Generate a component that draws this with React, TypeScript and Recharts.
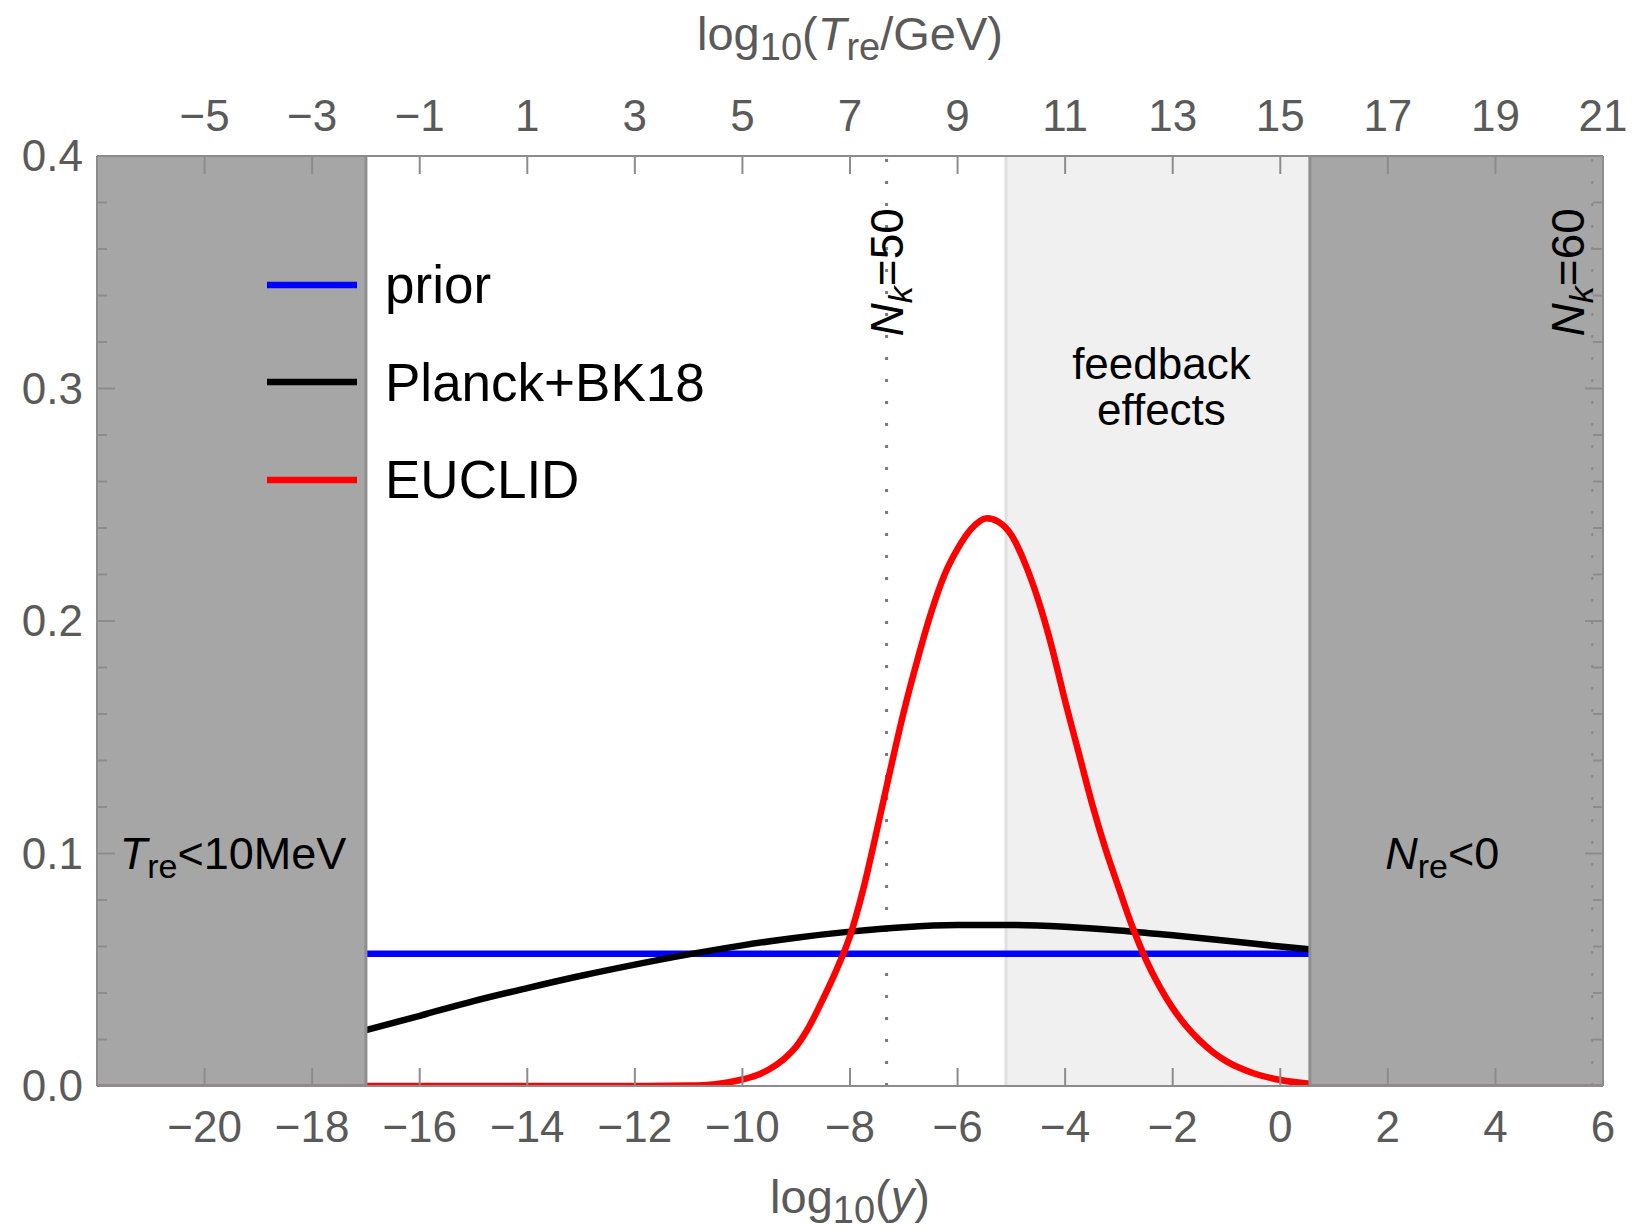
import {
  Legend,
  Line,
  LineChart,
  ReferenceArea,
  ReferenceDot,
  ReferenceLine,
  XAxis,
  YAxis,
} from "recharts";

const FONT = "'Liberation Sans', Arial, Helvetica, sans-serif";
const LABEL_GRAY = "#5a5a5a";
const FRAME_GRAY = "#8c8c8c";
const DARK_SHADE = "#a6a6a6";
const LIGHT_SHADE = "#f0f0f0";

// axis ticks
const xTicksBottom = [-20, -18, -16, -14, -12, -10, -8, -6, -4, -2, 0, 2, 4, 6];
const xTicksTop = [-5, -3, -1, 1, 3, 5, 7, 9, 11, 13, 15, 17, 19, 21];
const yTicks = [
  0, 0.02, 0.04, 0.06, 0.08, 0.1, 0.12, 0.14, 0.16, 0.18, 0.2, 0.22, 0.24, 0.26,
  0.28, 0.3, 0.32, 0.34, 0.36, 0.38, 0.4,
];

const seriesNames = ["prior", "Planck+BK18", "EUCLID"];
const seriesColors = ["#0000ff", "#000000", "#ff0000"];

// posteriors in log10(y)
const priorX = [-17, 0.55];
const priorY = [0.0569, 0.0569];

const planckX = [-17, -16, -15, -14, -13, -12, -11, -10, -9, -8, -7, -6, -5, -4, -3, -2, -1, 0, 0.55];
const planckY = [
  0.024, 0.0302, 0.0365, 0.0421, 0.0474, 0.0522, 0.0566, 0.0605, 0.0638, 0.0664,
  0.0683, 0.0692, 0.0693, 0.0685, 0.0669, 0.0648, 0.0625, 0.06, 0.0588,
];

const euclidX = [
  -17, -12, -11, -10.5, -10, -9.75, -9.5, -9.25, -9, -8.75, -8.5, -8.25, -8, -7.75,
  -7.5, -7.25, -7, -6.75, -6.5, -6.25, -6, -5.75, -5.45, -5.25, -5, -4.75, -4.5, -4.25,
  -4, -3.75, -3.5, -3.25, -3, -2.75, -2.5, -2.25, -2, -1.75, -1.5, -1.25, -1, -0.75,
  -0.5, 0, 0.55,
];
const euclidY = [
  0, 0, 0.0002, 0.0008, 0.0028, 0.0045, 0.0072, 0.0112, 0.017, 0.026, 0.0375, 0.05,
  0.0645, 0.085, 0.11, 0.136, 0.161, 0.183, 0.203, 0.2195, 0.231, 0.2395, 0.2442,
  0.2428, 0.237, 0.225, 0.209, 0.189, 0.1655, 0.1435, 0.1215, 0.102, 0.085, 0.0685,
  0.0545, 0.043, 0.0335, 0.0258, 0.0196, 0.0145, 0.0106, 0.0077, 0.0055, 0.0026, 0.001,
];

// excluded / marked regions
const xMin = -22;
const xMax = 6;
const topMin = -7;
const topMax = 21;
const lowTempCut = -17; // T_re < 10 MeV
const nreZero = 0.55; // N_re < 0
const feedbackStart = -5.1;
const nk50 = -7.32;
const nk60 = 5.8;

const zip = (xs: number[], ys: number[]) => xs.map((x, i) => ({ x, y: ys[i] }));
const priorData = zip(priorX, priorY);
const planckData = zip(planckX, planckY);
const euclidData = zip(euclidX, euclidY);
const hiddenLeft = zip([xMin, lowTempCut], [0, 0]);
const hiddenRight = zip([nreZero, xMax], [0, 0]);
const topAnchor = zip([topMin, topMax], [0, 0]);

const fmt = (v: number) => (v < 0 ? `\u2212${Math.abs(v)}` : `${v}`);
const isMajorY = (v: number) => Math.abs(v * 10 - Math.round(v * 10)) < 1e-6;

const BOTTOM_GAP = 41;
const TOP_GAP = 40;
const LEFT_GAP = 14;
const RIGHT_GAP = 4;
const MAJOR = 18;
const MINOR = 10;
const LINE_W = 6.5;

function BottomTick({ x, y, payload }: any) {
  const base = y - BOTTOM_GAP;
  return (
    <g>
      <line x1={x} x2={x} y1={base} y2={base - MAJOR} stroke={FRAME_GRAY} strokeWidth={2} />
      <text x={x} y={y} dy="0.35em" textAnchor="middle" fontSize={44} fontFamily={FONT} fill={LABEL_GRAY}>
        {fmt(payload.value)}
      </text>
    </g>
  );
}

function TopTick({ x, y, payload }: any) {
  const base = y + TOP_GAP;
  return (
    <g>
      <line x1={x} x2={x} y1={base} y2={base + MAJOR} stroke={FRAME_GRAY} strokeWidth={2} />
      <text x={x} y={y} dy="0.35em" textAnchor="middle" fontSize={44} fontFamily={FONT} fill={LABEL_GRAY}>
        {fmt(payload.value)}
      </text>
    </g>
  );
}

function LeftTick({ x, y, payload }: any) {
  const base = x + LEFT_GAP;
  const major = isMajorY(payload.value);
  return (
    <g>
      <line x1={base} x2={base + (major ? MAJOR : MINOR)} y1={y} y2={y} stroke={FRAME_GRAY} strokeWidth={2} />
      {major && (
        <text x={x} y={y} dy="0.35em" textAnchor="end" fontSize={44} fontFamily={FONT} fill={LABEL_GRAY}>
          {payload.value.toFixed(1)}
        </text>
      )}
    </g>
  );
}

function RightTick({ x, y, payload }: any) {
  const base = x - RIGHT_GAP;
  const major = isMajorY(payload.value);
  return (
    <line x1={base} x2={base - (major ? MAJOR : MINOR)} y1={y} y2={y} stroke={FRAME_GRAY} strokeWidth={2} />
  );
}

function TopTitle({ viewBox }: any) {
  const cx = viewBox.x + viewBox.width / 2;
  return (
    <text x={cx} y={viewBox.y + 50} textAnchor="middle" fontSize={47} fontFamily={FONT} fill={LABEL_GRAY}>
      log
      <tspan fontSize={38} dy={10}>10</tspan>
      <tspan dy={-10}>(</tspan>
      <tspan fontStyle="italic">T</tspan>
      <tspan fontSize={38} dy={10}>re</tspan>
      <tspan dy={-10}>/GeV)</tspan>
    </text>
  );
}

function BottomTitle({ viewBox }: any) {
  const cx = viewBox.x + viewBox.width / 2;
  return (
    <text x={cx} y={viewBox.y + 127} textAnchor="middle" fontSize={47} fontFamily={FONT} fill={LABEL_GRAY}>
      log
      <tspan fontSize={38} dy={10}>10</tspan>
      <tspan dy={-10}>(</tspan>
      <tspan fontStyle="italic">y</tspan>
      <tspan>)</tspan>
    </text>
  );
}

function LowTempNote({ cx, cy }: any) {
  return (
    <text x={cx} y={cy} dy="0.35em" textAnchor="middle" fontSize={45} fontFamily={FONT} fill="#000">
      <tspan fontStyle="italic">T</tspan>
      <tspan fontSize={34} dy={9}>re</tspan>
      <tspan dy={-9}>{"<10MeV"}</tspan>
    </text>
  );
}

function NreNote({ cx, cy }: any) {
  return (
    <text x={cx} y={cy} dy="0.35em" textAnchor="middle" fontSize={45} fontFamily={FONT} fill="#000">
      <tspan fontStyle="italic">N</tspan>
      <tspan fontSize={34} dy={9}>re</tspan>
      <tspan dy={-9}>{"<0"}</tspan>
    </text>
  );
}

function FeedbackNote({ cx, cy }: any) {
  return (
    <text x={cx} y={cy} textAnchor="middle" fontSize={44} fontFamily={FONT} fill="#000">
      <tspan x={cx}>feedback</tspan>
      <tspan x={cx} dy={46}>effects</tspan>
    </text>
  );
}

function NkNote({ cx, cy, value }: any) {
  return (
    <text
      x={cx}
      y={cy}
      dy="0.35em"
      textAnchor="middle"
      fontSize={46}
      fontFamily={FONT}
      fill="#000"
      transform={`rotate(-90 ${cx} ${cy})`}
    >
      <tspan fontStyle="italic">N</tspan>
      <tspan fontStyle="italic" fontSize={34} dy={9}>k</tspan>
      <tspan dy={-9}>{`=${value}`}</tspan>
    </text>
  );
}

function LegendBox() {
  return (
    <div style={{ fontFamily: FONT }}>
      {seriesNames.map((name, i) => (
        <div key={name} style={{ display: "flex", alignItems: "center", height: 97.5 }}>
          <svg width={90} height={10} style={{ display: "block" }}>
            <line x1={0} x2={90} y1={5} y2={5} stroke={seriesColors[i]} strokeWidth={6.5} />
          </svg>
          <span style={{ marginLeft: 28, fontSize: 53, lineHeight: "97.5px", color: "#000", whiteSpace: "nowrap" }}>
            {name}
          </span>
        </div>
      ))}
    </div>
  );
}

export default function App() {
  const common = { xAxisId: "bottom", yAxisId: "left" };
  return (
    <div style={{ position: "absolute", left: 0, top: 0, width: 1632, height: 1230, background: "#fff" }}>
      <LineChart width={1632} height={1230} margin={{ top: 0, right: 28, bottom: 0, left: 0 }}>
        <ReferenceArea {...common} x1={xMin} x2={lowTempCut} fill={DARK_SHADE} fillOpacity={1} stroke="none" />
        <ReferenceArea {...common} x1={feedbackStart} x2={nreZero} fill={LIGHT_SHADE} fillOpacity={1} stroke="none" />
        <ReferenceArea {...common} x1={nreZero} x2={xMax} fill={DARK_SHADE} fillOpacity={1} stroke="none" />
        <ReferenceLine {...common} x={feedbackStart} stroke="#e0e0e0" strokeWidth={3} />
        <ReferenceLine {...common} x={nk50} stroke="#7a7a7a" strokeWidth={3} strokeDasharray="3 19" />
        <ReferenceLine {...common} x={nk60} stroke="#888888" strokeWidth={2} strokeDasharray="3 19" />

        {/* invisible anchor so the upper log10(T_re/GeV) axis gets its scale */}
        <Line xAxisId="top" yAxisId="left" data={topAnchor} dataKey="y" stroke="none" dot={false} activeDot={false} isAnimationActive={false} legendType="none" />
        <Line {...common} data={hiddenLeft} dataKey="y" stroke="#a08283" strokeWidth={4} dot={false} activeDot={false} isAnimationActive={false} />
        <Line {...common} data={hiddenRight} dataKey="y" stroke="#a08283" strokeWidth={4} dot={false} activeDot={false} isAnimationActive={false} />
        <Line {...common} data={priorData} dataKey="y" name={seriesNames[0]} stroke={seriesColors[0]} strokeWidth={LINE_W} dot={false} activeDot={false} isAnimationActive={false} />
        <Line {...common} data={planckData} dataKey="y" type="monotone" name={seriesNames[1]} stroke={seriesColors[1]} strokeWidth={LINE_W} dot={false} activeDot={false} isAnimationActive={false} />
        <Line {...common} data={euclidData} dataKey="y" type="monotone" name={seriesNames[2]} stroke={seriesColors[2]} strokeWidth={LINE_W} dot={false} activeDot={false} isAnimationActive={false} />

        <ReferenceLine {...common} x={lowTempCut} stroke="#8e8e8e" strokeWidth={3} />
        <ReferenceLine {...common} x={nreZero} stroke="#8e8e8e" strokeWidth={3} />

        <ReferenceDot {...common} x={-19.47} y={0.1} r={1} shape={(p: any) => <LowTempNote {...p} />} />
        <ReferenceDot {...common} x={3.01} y={0.1} r={1} shape={(p: any) => <NreNote {...p} />} />
        <ReferenceDot {...common} x={-2.21} y={0.304} r={1} shape={(p: any) => <FeedbackNote {...p} />} />
        <ReferenceDot {...common} x={nk50} y={0.35} r={1} shape={(p: any) => <NkNote {...p} value={50} />} />
        <ReferenceDot {...common} x={5.34} y={0.35} r={1} shape={(p: any) => <NkNote {...p} value={60} />} />

        <XAxis
          xAxisId="bottom"
          type="number"
          dataKey="x"
          domain={[xMin, xMax]}
          ticks={xTicksBottom}
          interval={0}
          allowDataOverflow
          height={144}
          tickSize={0}
          tickMargin={BOTTOM_GAP}
          tickLine={false}
          axisLine={{ stroke: FRAME_GRAY, strokeWidth: 2 }}
          tick={<BottomTick />}
          label={<BottomTitle />}
        />
        <XAxis
          xAxisId="top"
          orientation="top"
          type="number"
          dataKey="x"
          domain={[topMin, topMax]}
          ticks={xTicksTop}
          interval={0}
          allowDataOverflow
          height={156}
          tickSize={0}
          tickMargin={TOP_GAP}
          tickLine={false}
          axisLine={{ stroke: FRAME_GRAY, strokeWidth: 2 }}
          tick={<TopTick />}
          label={<TopTitle />}
        />
        <YAxis
          yAxisId="left"
          type="number"
          domain={[0, 0.4]}
          ticks={yTicks}
          interval={0}
          allowDataOverflow
          width={97}
          tickSize={0}
          tickMargin={LEFT_GAP}
          tickLine={false}
          axisLine={{ stroke: FRAME_GRAY, strokeWidth: 2 }}
          tick={<LeftTick />}
        />
        <YAxis
          yAxisId="right"
          orientation="right"
          type="number"
          domain={[0, 0.4]}
          ticks={yTicks}
          interval={0}
          allowDataOverflow
          width={1}
          tickSize={0}
          tickMargin={RIGHT_GAP}
          tickLine={false}
          axisLine={{ stroke: FRAME_GRAY, strokeWidth: 2 }}
          tick={<RightTick />}
        />
        <Legend
          layout="vertical"
          align="center"
          verticalAlign="middle"
          wrapperStyle={{ left: 267, top: 236, width: 500 }}
          content={() => <LegendBox />}
        />
      </LineChart>
    </div>
  );
}
